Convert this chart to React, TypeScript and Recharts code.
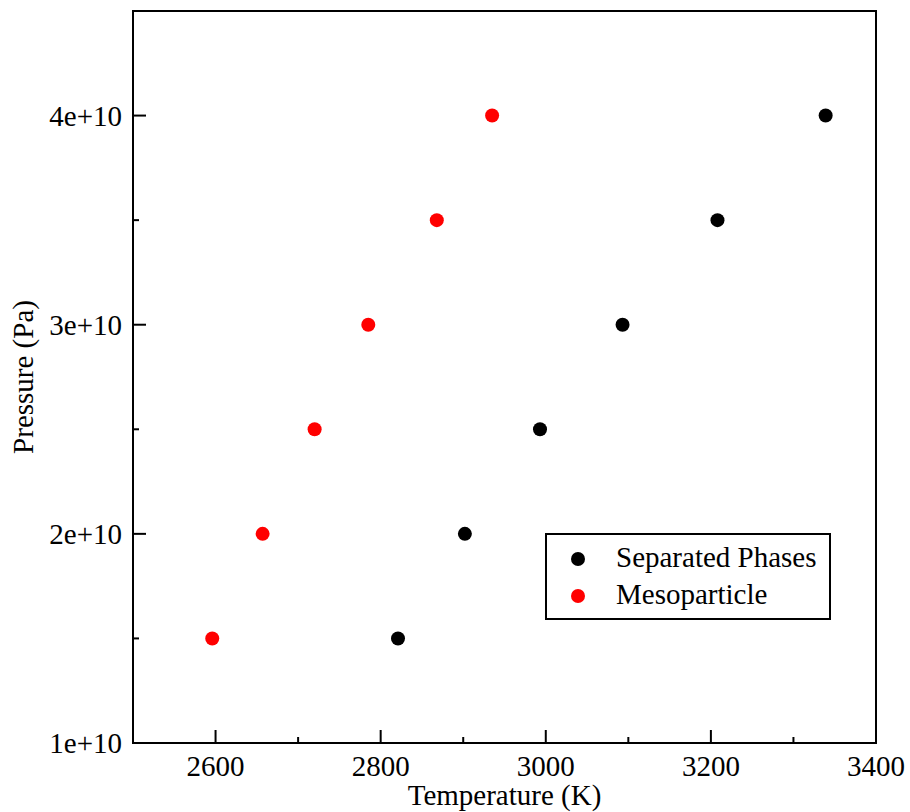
import React from "react";
import { ScatterChart, Scatter, XAxis, YAxis, ReferenceArea, Legend } from "recharts";

const pressures = [1.5e10, 2.0e10, 2.5e10, 3.0e10, 3.5e10, 4.0e10];
const separatedTemps = [2821, 2902, 2993, 3093, 3208, 3339];
const mesoTemps = [2596, 2657, 2720, 2785, 2868, 2935];

const xTicks = [2500, 2600, 2700, 2800, 2900, 3000, 3100, 3200, 3300, 3400];
const yTicks = [1e10, 1.5e10, 2e10, 2.5e10, 3e10, 3.5e10, 4e10, 4.5e10];

const separatedData = pressures.map((p, i) => ({ t: separatedTemps[i], p }));
const mesoData = pressures.map((p, i) => ({ t: mesoTemps[i], p }));

const FONT = "Liberation Serif, Tinos, Times New Roman, serif";
const FS = 29;

const XTick = (props: any) => {
  const { x, y, payload } = props;
  const v = payload.value;
  const major = v % 200 === 0;
  return (
    <g>
      <line x1={x} x2={x} y1={y} y2={y - (major ? 13 : 6)} stroke="#000" strokeWidth={2} />
      {major && (
        <text x={x} y={y + 33} textAnchor="middle" style={{ fontFamily: FONT }} fontSize={FS} fill="#000">
          {v}
        </text>
      )}
    </g>
  );
};

const YTick = (props: any) => {
  const { x, y, payload } = props;
  const v = payload.value;
  const major = Math.abs(v / 1e10 - Math.round(v / 1e10)) < 1e-9;
  return (
    <g>
      <line x1={x} x2={x + (major ? 13 : 6)} y1={y} y2={y} stroke="#000" strokeWidth={2} />
      {major && (
        <text x={x - 11} y={y + 10} textAnchor="end" style={{ fontFamily: FONT }} fontSize={FS} fill="#000">
          {`${Math.round(v / 1e10)}e+10`}
        </text>
      )}
    </g>
  );
};

const XLabel = (props: any) => {
  const vb = props.viewBox || {};
  return (
    <text x={vb.x + vb.width / 2} y={vb.y + 62} textAnchor="middle" style={{ fontFamily: FONT }} fontSize={FS} fill="#000">
      Temperature (K)
    </text>
  );
};

const YLabel = (props: any) => {
  const vb = props.viewBox || {};
  const cx = vb.x + 33;
  const cy = vb.y + vb.height / 2;
  return (
    <text x={cx} y={cy} transform={`rotate(-90, ${cx}, ${cy})`} textAnchor="middle" style={{ fontFamily: FONT }} fontSize={FS} fill="#000">
      Pressure (Pa)
    </text>
  );
};

const Dot = (color: string) => (props: any) => <circle cx={props.cx} cy={props.cy} r={7} fill={color} />;

const legendItems = [
  { name: "Separated Phases", color: "#000000" },
  { name: "Mesoparticle", color: "#ff0000" },
];

const LegendBox = () => (
  <div
    style={{
      position: "relative",
      width: 286,
      height: 87,
      boxSizing: "border-box",
      border: "2px solid #000",
      background: "#fff",
      fontFamily: FONT,
      fontSize: FS,
      color: "#000",
    }}
  >
    {legendItems.map((it, i) => (
      <div key={it.name} style={{ position: "absolute", left: 0, top: (i === 0 ? 26 : 63) - 2 - 18, height: 36, width: 280 }}>
        <span
          style={{
            position: "absolute",
            left: 24,
            top: 11,
            width: 14,
            height: 14,
            borderRadius: 7,
            background: it.color,
          }}
        />
        <span style={{ position: "absolute", left: 69, top: -2, lineHeight: "36px", whiteSpace: "nowrap" }}>{it.name}</span>
      </div>
    ))}
  </div>
);

export default function App() {
  return (
    <div style={{ position: "absolute", left: 0, top: 0, background: "#fff", fontFamily: FONT }}>
      <ScatterChart width={910} height={812} margin={{ top: 11, right: 34, left: 0, bottom: 0 }}>
        <XAxis
          type="number"
          dataKey="t"
          domain={[2500, 3400]}
          ticks={xTicks}
          interval={0}
          height={69}
          tickSize={0}
          tickMargin={0}
          tickLine={false}
          axisLine={{ stroke: "#000", strokeWidth: 2 }}
          tick={<XTick />}
          label={<XLabel />}
        />
        <YAxis
          type="number"
          dataKey="p"
          domain={[1e10, 4.5e10]}
          ticks={yTicks}
          interval={0}
          width={133}
          tickSize={0}
          tickMargin={0}
          tickLine={false}
          axisLine={{ stroke: "#000", strokeWidth: 2 }}
          tick={<YTick />}
          label={<YLabel />}
        />
        <ReferenceArea x1={2500} x2={3400} y1={1e10} y2={4.5e10} fill="none" fillOpacity={0} stroke="#000" strokeWidth={2} ifOverflow="visible" />
        <Legend
          layout="horizontal"
          verticalAlign="middle"
          align="center"
          content={<LegendBox />}
          wrapperStyle={{ position: "absolute", left: 545, top: 533, width: 286, height: 87 }}
        />
        <Scatter name="Separated Phases" data={separatedData} fill="#000" shape={Dot("#000")} isAnimationActive={false} />
        <Scatter name="Mesoparticle" data={mesoData} fill="#ff0000" shape={Dot("#ff0000")} isAnimationActive={false} />
      </ScatterChart>
    </div>
  );
}
